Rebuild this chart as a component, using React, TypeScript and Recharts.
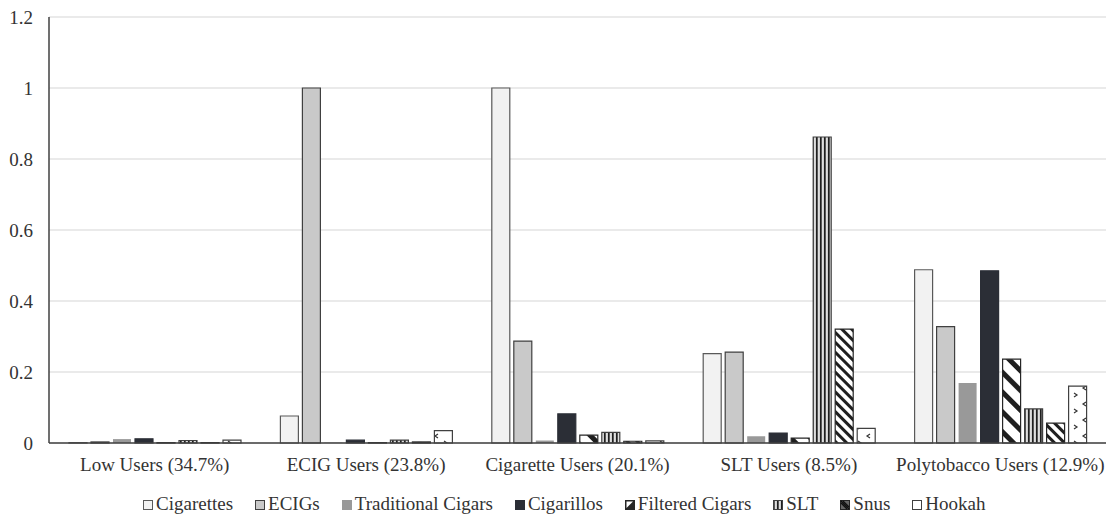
import React from 'react';
import { BarChart, Bar, XAxis, YAxis, CartesianGrid } from 'recharts';

const groups = [
  'Low Users (34.7%)',
  'ECIG Users (23.8%)',
  'Cigarette Users (20.1%)',
  'SLT Users (8.5%)',
  'Polytobacco Users (12.9%)',
];

const cigarettes = [0.001, 0.076, 1.0, 0.252, 0.488];
const ecigs = [0.003, 1.0, 0.287, 0.256, 0.328];
const traditionalCigars = [0.011, 0.001, 0.007, 0.019, 0.169];
const cigarillos = [0.012, 0.008, 0.082, 0.028, 0.485];
const filteredCigars = [0.001, 0.001, 0.022, 0.014, 0.236];
const slt = [0.007, 0.008, 0.03, 0.862, 0.096];
const snus = [0.001, 0.003, 0.005, 0.321, 0.056];
const hookah = [0.008, 0.035, 0.006, 0.041, 0.16];

const yTicks = [0, 0.2, 0.4, 0.6, 0.8, 1, 1.2];

const data = groups.map((g, i) => ({
  name: g,
  cigarettes: cigarettes[i],
  ecigs: ecigs[i],
  traditionalCigars: traditionalCigars[i],
  cigarillos: cigarillos[i],
  filteredCigars: filteredCigars[i],
  slt: slt[i],
  snus: snus[i],
  hookah: hookah[i],
}));

const FONT = '"Liberation Serif", "Times New Roman", serif';

// bar fill patterns (prefix p keeps ids unique per svg)
const Patterns = ({ p }: { p: string }) => (
  <defs>
    <pattern id={`${p}filt`} patternUnits="userSpaceOnUse" width="14" height="14" patternTransform="rotate(45)">
      <rect width="14" height="14" fill="#ffffff" />
      <rect x="0" y="0" width="14" height="5" fill="#1f1f1f" />
    </pattern>
    <pattern id={`${p}slt`} patternUnits="userSpaceOnUse" width="4" height="4">
      <rect width="4" height="4" fill="#b0b0b0" />
      <rect x="0" y="0" width="1.6" height="4" fill="#1f1f1f" />
      <rect x="2.4" y="0" width="1" height="4" fill="#ffffff" />
    </pattern>
    <pattern id={`${p}snus`} patternUnits="userSpaceOnUse" width="7" height="7" patternTransform="rotate(45)">
      <rect width="7" height="7" fill="#ffffff" />
      <rect x="0" y="0" width="7" height="3" fill="#1f1f1f" />
    </pattern>
    <pattern id={`${p}hook`} patternUnits="userSpaceOnUse" width="18" height="16">
      <rect width="18" height="16" fill="#ffffff" />
      <path d="M6 2 L3 4 L6 6" stroke="#333" strokeWidth="1.2" fill="none" />
      <path d="M12 9 L15 11 L12 13" stroke="#333" strokeWidth="1.2" fill="none" />
    </pattern>
  </defs>
);

const series = [
  { key: 'cigarettes', label: 'Cigarettes', fill: '#f2f2f2', stroke: '#595959' },
  { key: 'ecigs', label: 'ECIGs', fill: '#c9c9c9', stroke: '#404040' },
  { key: 'traditionalCigars', label: 'Traditional Cigars', fill: '#999999', stroke: 'none' },
  { key: 'cigarillos', label: 'Cigarillos', fill: '#2b2e36', stroke: '#2b2e36' },
  { key: 'filteredCigars', label: 'Filtered Cigars', fill: 'filt', stroke: '#262626' },
  { key: 'slt', label: 'SLT', fill: 'slt', stroke: '#404040' },
  { key: 'snus', label: 'Snus', fill: 'snus', stroke: '#262626' },
  { key: 'hookah', label: 'Hookah', fill: 'hook', stroke: '#404040' },
];

const fillFor = (f: string, p: string) => (f.startsWith('#') ? f : `url(#${p}${f})`);

const LegendSwatch = ({ s, i }: { s: (typeof series)[number]; i: number }) => {
  const p = `lg${i}`;
  let inner: React.ReactNode;
  if (s.key === 'filteredCigars') {
    inner = (
      <>
        <rect x="0.5" y="0.5" width="9" height="9" fill="#262626" stroke="#262626" />
        <path d="M1.5 1.5 L8 1.5 L1.5 8 Z" fill="#fff" />
      </>
    );
  } else if (s.key === 'snus') {
    inner = (
      <>
        <rect x="0.5" y="0.5" width="9" height="9" fill="#666" stroke="#262626" />
        <path d="M1 3 L7 9 M1 1 L9 9 M3 1 L9 7" stroke="#111" strokeWidth="1.2" />
      </>
    );
  } else if (s.key === 'hookah') {
    inner = <rect x="0.5" y="0.5" width="9" height="9" fill="#fff" stroke="#404040" />;
  } else {
    inner = (
      <rect
        x="0.5"
        y="0.5"
        width="9"
        height="9"
        fill={fillFor(s.fill, p)}
        stroke={s.stroke === 'none' ? s.fill : s.stroke}
      />
    );
  }
  return (
    <svg width={10} height={10} style={{ marginRight: 3, position: 'relative', top: 1 }}>
      <Patterns p={p} />
      {inner}
    </svg>
  );
};

export default function App() {
  return (
    <div style={{ position: 'absolute', left: 0, top: 0, width: 1106, height: 514, background: '#fff' }}>
      <BarChart
        width={1106}
        height={514}
        data={data}
        margin={{ top: 17, right: 0, left: 0, bottom: 41 }}
        barSize={18}
        barGap={4}
      >
        <Patterns p="c" />
        <CartesianGrid vertical={false} stroke="#e3e3e3" strokeWidth={1.5} />
        <XAxis
          dataKey="name"
          tickLine={false}
          stroke="#404040"
          strokeWidth={1.5}
          tickMargin={9}
          height={30}
          interval={0}
          tick={{ fill: '#333', fontSize: 19, fontFamily: FONT }}
        />
        <YAxis
          width={49}
          domain={[0, 1.2]}
          ticks={yTicks}
          tickLine={false}
          stroke="#404040"
          strokeWidth={1.5}
          tickMargin={10}
          tick={{ fill: '#333', fontSize: 19, fontFamily: FONT }}
        />
        {series.map((s) => (
          <Bar
            key={s.key}
            dataKey={s.key}
            name={s.label}
            fill={fillFor(s.fill, 'c')}
            stroke={s.stroke}
            strokeWidth={1.2}
            isAnimationActive={false}
          />
        ))}
      </BarChart>
      <div
        style={{
          position: 'absolute',
          top: 493,
          left: 143,
          display: 'flex',
          alignItems: 'center',
          fontFamily: FONT,
          fontSize: 19,
          color: '#333',
          whiteSpace: 'nowrap',
        }}
      >
        {series.map((s, i) => (
          <span
            key={s.key}
            style={{ display: 'flex', alignItems: 'center', marginLeft: i === 0 ? 0 : 22 }}
          >
            <LegendSwatch s={s} i={i} />
            {s.label}
          </span>
        ))}
      </div>
    </div>
  );
}
